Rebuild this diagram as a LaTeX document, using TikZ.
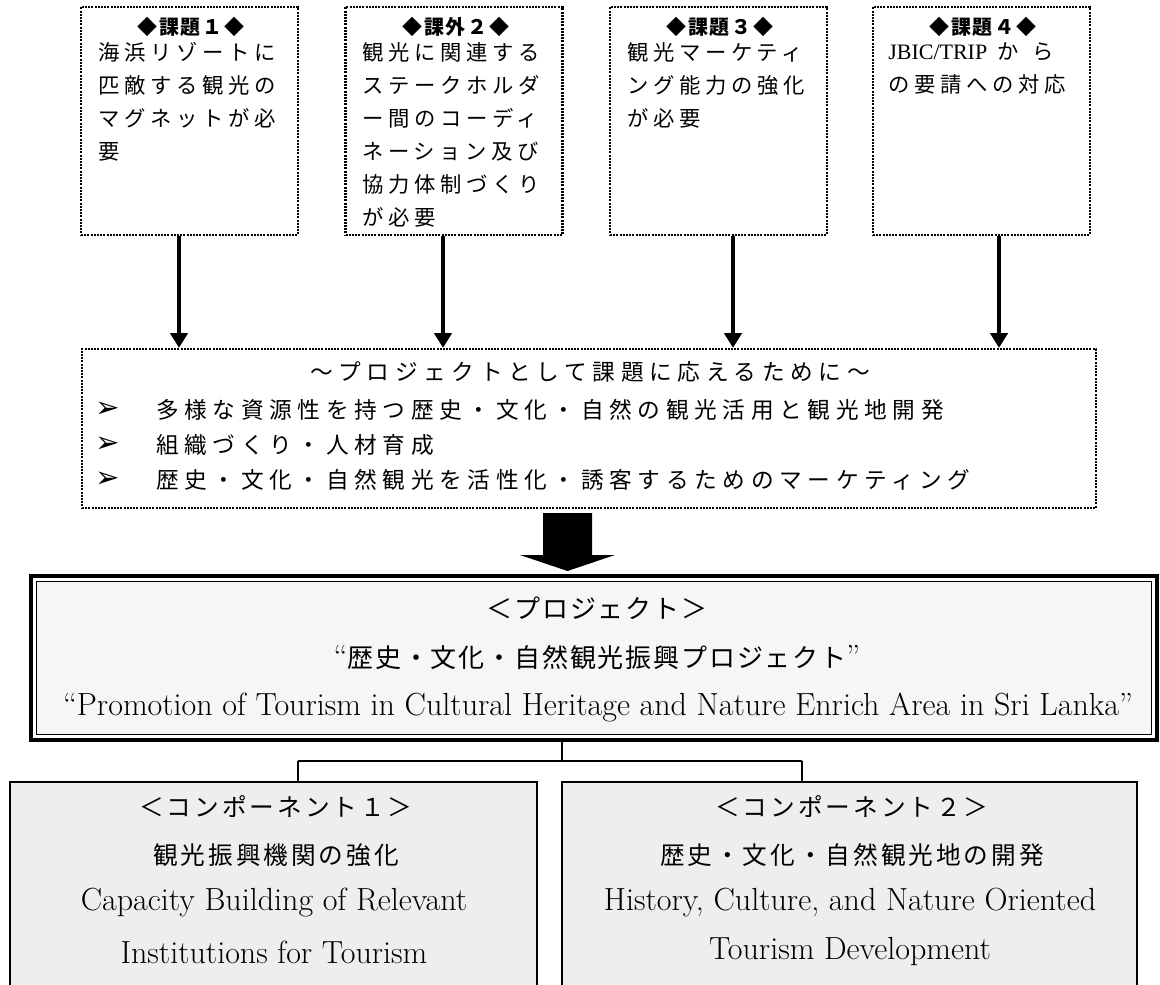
\documentclass[tikz,border=0pt]{standalone}
\usepackage{fontspec}
\newfontfamily\jpT[LetterSpace=22]{Noto Sans CJK JP}
\newfontfamily\jpH[LetterSpace=8]{Noto Sans CJK JP}
\newfontfamily\jpM[LetterSpace=25]{Noto Sans CJK JP}
\newfontfamily\jpP[LetterSpace=7]{Noto Sans CJK JP}
\newfontfamily\jpC[LetterSpace=12]{Noto Sans CJK JP}
\newfontfamily\dv{DejaVu Sans}
\newfontfamily\ls{Liberation Serif}
\usetikzlibrary{arrows.meta}
\begin{document}
\begin{tikzpicture}[x=0.75pt,y=-0.75pt,
  dots/.style={draw, line width=1.8pt, dash pattern=on 1.5pt off 0.9pt},
  topbox/.style={dots, inner sep=0, minimum width=162.75pt, minimum height=171pt},
  midbox/.style={dots, inner sep=0, minimum width=760.5pt, minimum height=119.25pt},
  hdr/.style={inner sep=0, font={\jpH\bfseries\fontsize{15pt}{18pt}\selectfont}},
  body/.style={inner sep=0, anchor=north west, align=left, font={\jpT\fontsize{16pt}{24.75pt}\selectfont}},
  midtxt/.style={inner sep=0, font={\jpM\fontsize{17pt}{20pt}\selectfont}},
  bul/.style={inner sep=0, font={\dv\fontsize{22pt}{24pt}\selectfont}},
  jtxt/.style={inner sep=0, font={\jpP\fontsize{19.5pt}{22pt}\selectfont}},
  ctxt/.style={inner sep=0, font={\jpC\fontsize{18.5pt}{22pt}\selectfont}},
  etxt/.style={inner sep=0, font={\rmfamily\fontsize{24pt}{28pt}\selectfont}},
  arr/.style={line width=2.4pt, -{Triangle[length=11pt,width=13pt]}},
  conn/.style={line width=1.2pt},
  compbox/.style={draw, line width=1pt, fill=gray!13, inner sep=0, minimum height=159.75pt}
]
\useasboundingbox (0,0) rectangle (1160,985);
\clip (0,0) rectangle (1160,985);

% top boxes
\node[topbox] (t1) at (189.5,121) {};
\node[topbox] (t2) at (454,121) {};
\node[topbox] (t3) at (718.5,121) {};
\node[topbox] (t4) at (981.5,121) {};

\node[hdr] (h1) at (191,27) {◆課題１◆};
\node[hdr] (h2) at (456,27) {◆課外２◆};
\node[hdr] (h3) at (720,27) {◆課題３◆};
\node[hdr] (h4) at (983,27) {◆課題４◆};

\node[body] (b1) at (98,42) {海浜リゾートに\\匹敵する観光の\\マグネットが必\\要};
\node[body] (b2) at (362,42) {観光に関連する\\ステークホルダ\\ー間のコーディ\\ネーション及び\\協力体制づくり\\が必要};
\node[body] (b3) at (627,42) {観光マーケティ\\ング能力の強化\\が必要};
\node[body] (b4) at (888,42) {{\ls\fontsize{16.5pt}{24.75pt}\selectfont JBIC/TRIP}\hspace{8pt}か\hspace{10pt}ら\\の要請への対応};

% middle box
\node[midbox] (m) at (589,428.5) {};
\node[midtxt] (mt) at (590,372) {〜プロジェクトとして課題に応えるために〜};
\node[bul] (u1) at (108,410) {➢};
\node[bul] (u2) at (108,445) {➢};
\node[bul] (u3) at (108,480) {➢};
\node[midtxt, anchor=west] (l1) at (156,410) {多様な資源性を持つ歴史・文化・自然の観光活用と観光地開発};
\node[midtxt, anchor=west] (l2) at (156,445) {組織づくり・人材育成};
\node[midtxt, anchor=west] (l3) at (156,480) {歴史・文化・自然観光を活性化・誘客するためのマーケティング};

% arrows from top boxes
\draw[arr] ([xshift=-7.875pt]t1.south) -- ([xshift=-7.875pt]t1.south |- m.north);
\draw[arr] ([xshift=-8.25pt]t2.south) -- ([xshift=-8.25pt]t2.south |- m.north);
\draw[arr] ([xshift=10.875pt]t3.south) -- ([xshift=10.875pt]t3.south |- m.north);
\draw[arr] ([xshift=13.125pt]t4.south) -- ([xshift=13.125pt]t4.south |- m.north);

% big block arrow
\fill (543,513) -- (592,513) -- (592,555) -- (615,555) -- (567.5,571) -- (520,555) -- (543,555) -- cycle;

% project box
\node[draw, line width=3pt, fill=white, inner sep=0, minimum width=844.5pt, minimum height=123pt] (p) at (594,658) {};
\draw[line width=1.1pt, fill=gray!7] (36.5,581.5) rectangle (1151.5,734.5);
\node[jtxt] (p1) at (597,608) {＜プロジェクト＞};
\node[jtxt] (p2) at (597,657) {{\rmfamily\fontsize{24pt}{28pt}\selectfont “}歴史・文化・自然観光振興プロジェクト{\rmfamily\fontsize{24pt}{28pt}\selectfont ”}};
\node[etxt] (p3) at (598,707) {“Promotion of Tourism in Cultural Heritage and Nature Enrich Area in Sri Lanka”};

% components
\node[compbox, minimum width=395.25pt] (c1) at (273.5,888.5) {};
\node[compbox, minimum width=431.25pt] (c2) at (849.5,888.5) {};
\node[ctxt] (c1a) at (276,807) {＜コンポーネント１＞};
\node[ctxt] (c1b) at (276,855) {観光振興機関の強化};
\node[etxt] (c1c) at (274,903) {Capacity Building of Relevant};
\node[etxt] (c1d) at (274,952) {Institutions for Tourism};
\node[ctxt] (c2a) at (852,807) {＜コンポーネント２＞};
\node[ctxt] (c2b) at (852,855) {歴史・文化・自然観光地の開発};
\node[etxt] (c2c) at (850,903) {History, Culture, and Nature Oriented};
\node[etxt] (c2d) at (850,952) {Tourism Development};

% connectors
\coordinate (j) at (562,761);
\coordinate (k1) at (298,761);
\coordinate (k2) at (802,761);
\draw[conn] (p.south -| j) -- (j);
\draw[conn] (k1) -- (k2);
\draw[conn] (k1) -- (k1 |- c1.north);
\draw[conn] (k2) -- (k2 |- c2.north);
\end{tikzpicture}
\end{document}
